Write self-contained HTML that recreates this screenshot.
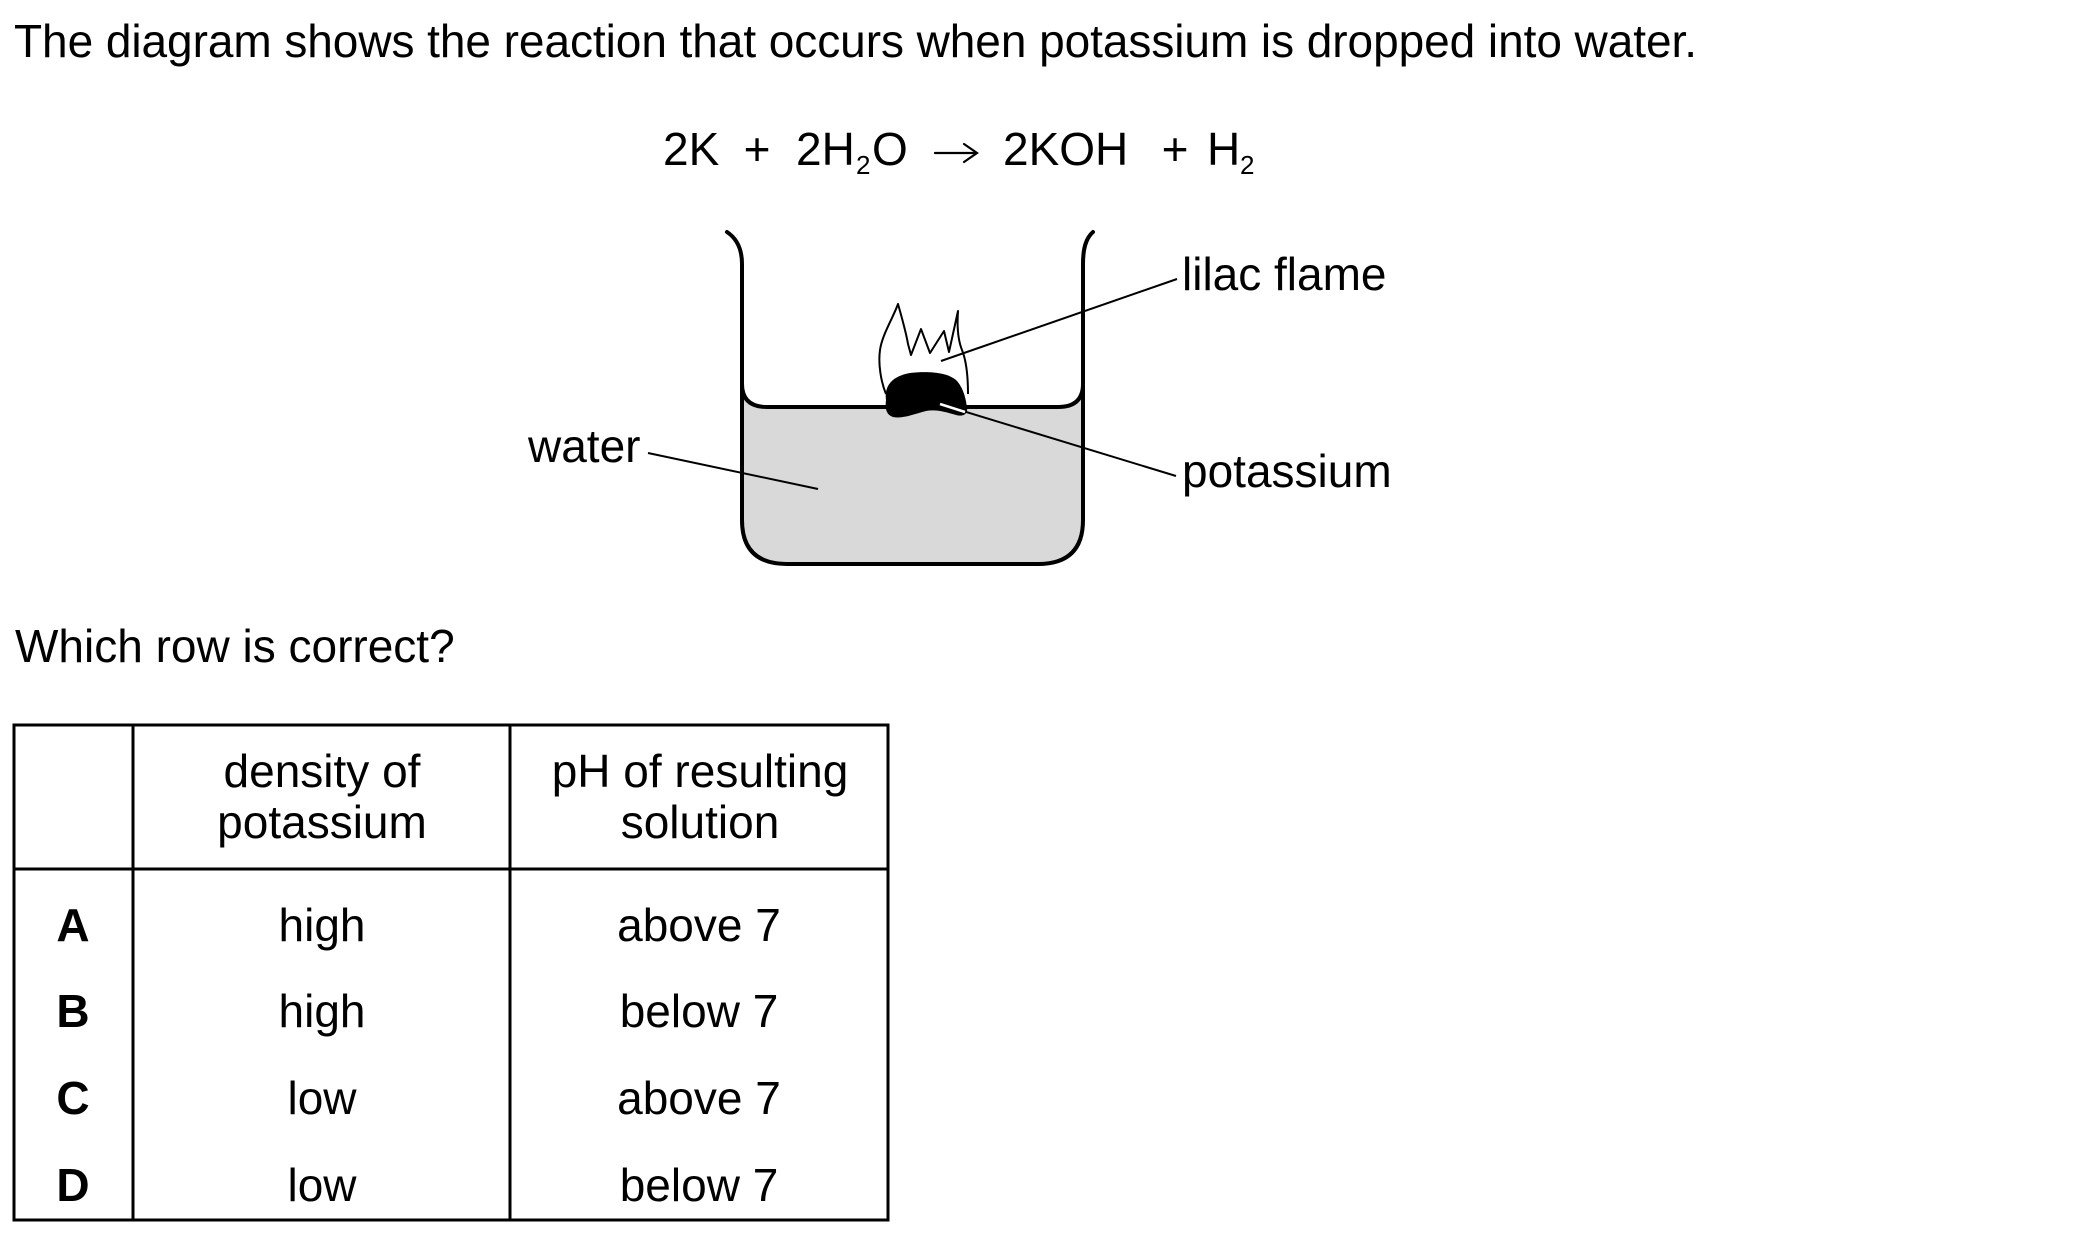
<!DOCTYPE html>
<html>
<head>
<meta charset="utf-8">
<style>
  html, body { margin:0; padding:0; background:#fff; }
  body { width:2100px; height:1244px; overflow:hidden; }
  svg { display:block; }
  text { font-family:"Liberation Sans", Arial, sans-serif; font-size:46px; fill:#000; }
  .b { font-weight:bold; }
  .sub { font-size:26px; }
</style>
</head>
<body>
<svg width="2100" height="1244" viewBox="0 0 2100 1244" xmlns="http://www.w3.org/2000/svg">
  <!-- Intro line -->
  <text x="14" y="57" textLength="1683" lengthAdjust="spacing">The diagram shows the reaction that occurs when potassium is dropped into water.</text>

  <!-- Equation -->
  <text x="663" y="165">2K</text>
  <text x="757" y="165" text-anchor="middle">+</text>
  <text x="796" y="165">2H</text>
  <text x="856" y="174" class="sub">2</text>
  <text x="872" y="165">O</text>
  <g stroke="#000" stroke-width="2.2" fill="none" stroke-linecap="round">
    <line x1="935" y1="153" x2="976" y2="153"/>
    <path d="M964,144 L977,153 L964,162"/>
  </g>
  <text x="1003" y="165">2KOH</text>
  <text x="1175" y="165" text-anchor="middle">+</text>
  <text x="1207" y="165">H</text>
  <text x="1240" y="174" class="sub">2</text>

  <!-- Beaker water fill -->
  <path d="M742,387 Q742,407 767,407 L1058,407 Q1083,407 1083,387 L1083,520 Q1083,564 1038,564 L787,564 Q742,564 742,520 Z" fill="#d9d9d9"/>
  <!-- Beaker outline -->
  <path d="M727,232 C736,238 742,248 742,264 L742,520 Q742,564 787,564 L1038,564 Q1083,564 1083,520 L1083,264 C1083,248 1086,238 1093,232" fill="none" stroke="#000" stroke-width="4" stroke-linecap="round"/>
  <!-- Water surface with meniscus -->
  <path d="M742,384 Q742,407 767,407 L1058,407 Q1083,407 1083,384" fill="none" stroke="#000" stroke-width="4"/>

  <!-- Flame -->
  <path d="M886,394 C881,382 878,364 880,350 C882,335 893,318 898,304 C902,318 906,332 908,344 L911,355 L921,329 L930,353 L944,331 L949,352 L958,311 C957,325 958,340 962,350 C966,360 968,375 968,394" fill="#fff" stroke="#000" stroke-width="2" stroke-linejoin="round"/>

  <!-- Potassium blob -->
  <path d="M886,400 C884,385 893,376 910,373 C928,371 948,372 957,381 C964,389 966,400 967,408 C968,414 963,417 956,415 C946,412 936,409 926,411 C914,414 903,419 893,417 C886,415 885,408 886,400 Z" fill="#000"/>

  <!-- Leader lines -->
  <g stroke="#000" stroke-width="2" fill="none">
    <line x1="941" y1="361" x2="1177" y2="279"/>
    <line x1="940" y1="404" x2="1176" y2="476"/>
    <line x1="648" y1="453" x2="818" y2="489"/>
  </g>
  <line x1="940" y1="404" x2="965" y2="412" stroke="#fff" stroke-width="2.5"/>

  <!-- Labels -->
  <text x="1182" y="290">lilac flame</text>
  <text x="1182" y="487">potassium</text>
  <text x="528" y="462">water</text>

  <!-- Question -->
  <text x="15" y="662">Which row is correct?</text>

  <!-- Table -->
  <g stroke="#000" stroke-width="3" fill="none">
    <rect x="14" y="725" width="874" height="495"/>
    <line x1="133" y1="725" x2="133" y2="1220"/>
    <line x1="510" y1="725" x2="510" y2="1220"/>
    <line x1="14" y1="869" x2="888" y2="869"/>
  </g>

  <text x="322" y="787" text-anchor="middle">density of</text>
  <text x="322" y="838" text-anchor="middle">potassium</text>
  <text x="700" y="787" text-anchor="middle">pH of resulting</text>
  <text x="700" y="838" text-anchor="middle">solution</text>

  <text x="73" y="941" text-anchor="middle" class="b">A</text>
  <text x="73" y="1027" text-anchor="middle" class="b">B</text>
  <text x="73" y="1114" text-anchor="middle" class="b">C</text>
  <text x="73" y="1201" text-anchor="middle" class="b">D</text>

  <text x="322" y="941" text-anchor="middle">high</text>
  <text x="322" y="1027" text-anchor="middle">high</text>
  <text x="322" y="1114" text-anchor="middle">low</text>
  <text x="322" y="1201" text-anchor="middle">low</text>

  <text x="699" y="941" text-anchor="middle">above 7</text>
  <text x="699" y="1027" text-anchor="middle">below 7</text>
  <text x="699" y="1114" text-anchor="middle">above 7</text>
  <text x="699" y="1201" text-anchor="middle">below 7</text>
</svg>
</body>
</html>
